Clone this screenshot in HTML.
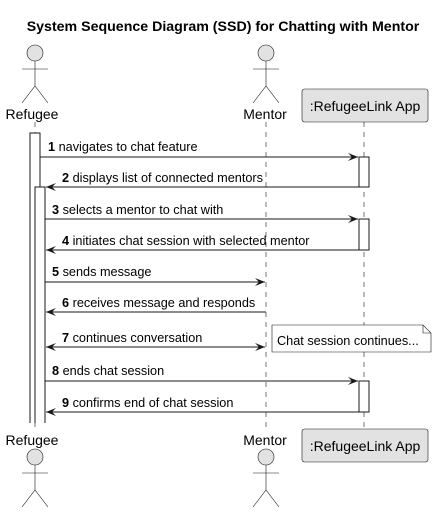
<!DOCTYPE html>
<html><head><meta charset="utf-8"><style>
html,body{margin:0;padding:0;background:#fff;}
svg{display:block;}
text{font-family:"Liberation Sans",sans-serif;font-size:12.7px;fill:#000;}
</style></head><body>
<svg width="446" height="512" viewBox="0 0 446 512" xmlns="http://www.w3.org/2000/svg">
<defs>
<marker id="ah" viewBox="0 0 10 8" refX="10" refY="4" markerWidth="10" markerHeight="8" orient="auto-start-reverse" markerUnits="userSpaceOnUse">
<path d="M0,0 L10,4 L0,8 L4,4 Z" fill="#181818"/>
</marker>
</defs>
<text x="223" y="31" text-anchor="middle" style="font-weight:bold;font-size:14.2px">System Sequence Diagram (SSD) for Chatting with Mentor</text>
<g stroke="#181818" stroke-width="0.6" stroke-dasharray="5,5" fill="none">
<line x1="35" y1="122" x2="35" y2="428"/>
<line x1="266" y1="122" x2="266" y2="428"/>
<line x1="364" y1="122" x2="364" y2="428"/>
</g>
<g stroke="#181818" stroke-width="0.6" fill="#e2e2e2">
<circle cx="35" cy="53" r="8"/>
<circle cx="266" cy="53" r="8"/>
<circle cx="35" cy="457" r="8"/>
<circle cx="266" cy="457" r="8"/>
</g>
<g stroke="#181818" stroke-width="0.6" fill="none">
<path d="M35,61 V86 M22,69 H48 M22,103 L35,86 L48,103"/>
<path d="M266,61 V86 M253,69 H279 M253,103 L266,86 L279,103"/>
<path d="M35,465 V490 M22,473 H48 M22,507 L35,490 L48,507"/>
<path d="M266,465 V490 M253,473 H279 M253,507 L266,490 L279,507"/>
</g>
<text x="32" y="119" text-anchor="middle" style="font-size:14px">Refugee</text>
<text x="265" y="119" text-anchor="middle" style="font-size:14px">Mentor</text>
<text x="32" y="445" text-anchor="middle" style="font-size:14px">Refugee</text>
<text x="265" y="445" text-anchor="middle" style="font-size:14px">Mentor</text>
<rect x="302" y="89" width="126" height="33" rx="2.5" fill="#e2e2e2" stroke="#181818" stroke-width="0.6"/>
<text x="365" y="111" text-anchor="middle" style="font-size:14px">:RefugeeLink App</text>
<rect x="302" y="429" width="126" height="33" rx="2.5" fill="#e2e2e2" stroke="#181818" stroke-width="0.6"/>
<text x="365" y="451" text-anchor="middle" style="font-size:14px">:RefugeeLink App</text>
<g fill="#fff" stroke="#181818" stroke-width="1">
<path d="M30,423 V133 H40 V423 Z" stroke="none"/>
<path d="M30,423 V133 H40 V423"/>
<path d="M35,423 V187 H45 V423 Z" stroke="none"/>
<path d="M35,423 V187 H45 V423"/>
<rect x="359" y="157" width="10" height="30"/>
<rect x="359" y="219" width="10" height="31"/>
<rect x="359" y="381" width="10" height="31"/>
</g>
<g stroke="#181818" stroke-width="1" fill="none">
<line x1="40" y1="157" x2="358" y2="157" marker-end="url(#ah)"/>
<line x1="359" y1="187" x2="46" y2="187" marker-end="url(#ah)"/>
<line x1="45" y1="219" x2="358" y2="219" marker-end="url(#ah)"/>
<line x1="359" y1="250" x2="46" y2="250" marker-end="url(#ah)"/>
<line x1="45" y1="282" x2="265" y2="282" marker-end="url(#ah)"/>
<line x1="266" y1="312" x2="46" y2="312" marker-end="url(#ah)"/>
<line x1="46" y1="347" x2="265" y2="347" marker-start="url(#ah)" marker-end="url(#ah)"/>
<line x1="45" y1="381" x2="358" y2="381" marker-end="url(#ah)"/>
<line x1="359" y1="412" x2="46" y2="412" marker-end="url(#ah)"/>
</g>
<text x="48" y="151"><tspan font-weight="bold">1</tspan> navigates to chat feature</text>
<text x="62" y="182"><tspan font-weight="bold">2</tspan> displays list of connected mentors</text>
<text x="52" y="214"><tspan font-weight="bold">3</tspan> selects a mentor to chat with</text>
<text x="62" y="245"><tspan font-weight="bold">4</tspan> initiates chat session with selected mentor</text>
<text x="52" y="276"><tspan font-weight="bold">5</tspan> sends message</text>
<text x="62" y="307"><tspan font-weight="bold">6</tspan> receives message and responds</text>
<text x="62" y="342"><tspan font-weight="bold">7</tspan> continues conversation</text>
<text x="52" y="375"><tspan font-weight="bold">8</tspan> ends chat session</text>
<text x="62" y="407"><tspan font-weight="bold">9</tspan> confirms end of chat session</text>
<path d="M272,325 H423 L431,333 V352 H272 Z" fill="#fefefe" stroke="#181818" stroke-width="0.6"/>
<path d="M423,325 V333 H431" fill="none" stroke="#181818" stroke-width="0.6"/>
<text x="277" y="345">Chat session continues...</text>
</svg>
</body></html>
